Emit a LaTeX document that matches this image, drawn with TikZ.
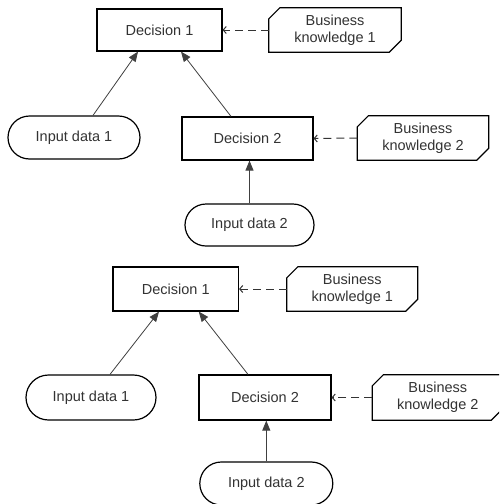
\documentclass[tikz,border=0pt]{standalone}
\usepackage{fontspec}
\setmainfont{Liberation Sans}
\usetikzlibrary{arrows.meta,calc,shapes.misc}
\definecolor{txt}{HTML}{333333}
\newcommand{\bkshape}[1]{%
  \draw[line width=1.2pt] ($(#1.north west)+(11,0)$) -- (#1.north east) -- ($(#1.south east)+(0,-12)$)
    -- ($(#1.south east)+(-12,0)$) -- (#1.south west) -- ($(#1.north west)+(0,11)$) -- cycle;}
\begin{document}
\begin{tikzpicture}[x=1pt,y=-1pt,
  every node/.style={font=\fontsize{14.5}{17}\selectfont, text=txt, inner sep=0pt, align=center},
  decbox/.style={draw=black, line width=1.2pt, rectangle},
  inbox/.style={draw=black, line width=1.2pt, rounded rectangle},
  bkbox/.style={rectangle},
  req/.style={draw=black!75, line width=0.8pt, -{Triangle[length=10pt,width=8pt]}},
  kreq/.style={draw=black!80, line width=1pt, dash pattern=on 8pt off 5pt, -{Straight Barb[length=3pt,width=7pt]}}]
\useasboundingbox (0,0) rectangle (499,504);
\clip (0,0) rectangle (499,504);
\fill[white] (0,0) rectangle (499,504);
% ---- top diagram ----
\node[decbox, minimum width=125pt, minimum height=42pt] (ad1) at (159.5,30) {Decision 1};
\node[bkbox, minimum width=132pt, minimum height=44pt] (abk1) at (335,30) {Business\\knowledge 1};
\bkshape{abk1}
\node[inbox, minimum width=132pt, minimum height=43pt] (ain1) at (74,137.5) {Input data 1};
\node[decbox, minimum width=131pt, minimum height=43pt] (ad2) at (247.5,138.5) {Decision 2};
\node[bkbox, minimum width=131pt, minimum height=44pt] (abk2) at (423,138) {Business\\knowledge 2};
\bkshape{abk2}
\node[inbox, minimum width=129pt, minimum height=42pt] (ain2) at (249.5,225) {Input data 2};
\draw[req] ($(ain1.north)+(19,0)$) -- ($(ad1.south)+(-21.5,0)$);
\draw[req] ($(ad2.north)+(-16.5,0)$) -- ($(ad1.south)+(21.5,0)$);
\draw[req] (ain2.north) -- (ain2.north |- ad2.south);
\draw[kreq] (abk1.west) -- (ad1.east);
\draw[kreq] (abk2.west) -- (ad2.east);
% ---- bottom diagram ----
\node[decbox, minimum width=125.5pt, minimum height=44pt] (bd1) at (175.75,289) {Decision 1};
\node[bkbox, minimum width=130.5pt, minimum height=44pt] (bbk1) at (352.25,289) {Business\\knowledge 1};
\bkshape{bbk1}
\node[inbox, minimum width=130pt, minimum height=45pt] (bin1) at (91,397.5) {Input data 1};
\node[decbox, minimum width=132pt, minimum height=45pt] (bd2) at (265,397.5) {Decision 2};
\node[bkbox, minimum width=130.5pt, minimum height=45pt] (bbk2) at (437.75,397.5) {Business\\knowledge 2};
\bkshape{bbk2}
\node[inbox, minimum width=133pt, minimum height=43pt] (bin2) at (266.3,483.5) {Input data 2};
\draw[req] ($(bin1.north)+(19,0)$) -- ($(bd1.south)+(-16.75,0)$);
\draw[req] ($(bd2.north)+(-17,0)$) -- ($(bd1.south)+(23,0)$);
\draw[req] (bin2.north) -- (bin2.north |- bd2.south);
\draw[kreq] (bbk1.west) -- (bd1.east);
\draw[kreq] (bbk2.west) -- (bd2.east);
\end{tikzpicture}
\end{document}
